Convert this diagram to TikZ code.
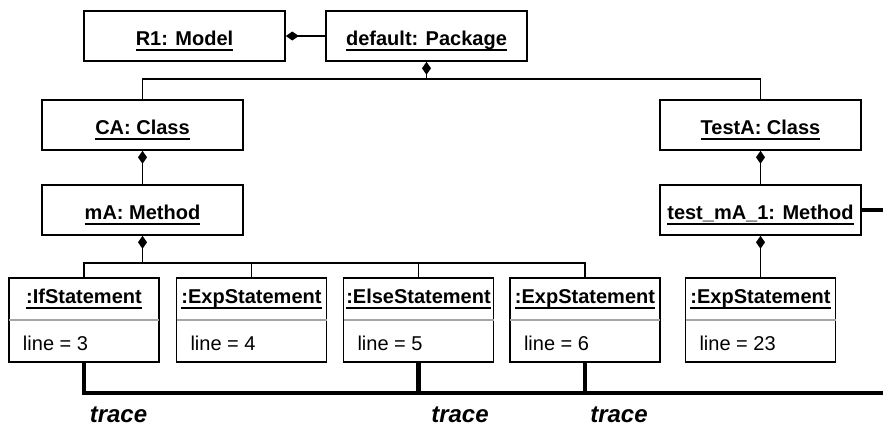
\documentclass[tikz,border=0pt]{standalone}
\usepackage{fontspec}
\setmainfont{Liberation Sans}
\usetikzlibrary{arrows.meta}
\newcommand\ulin[1]{\setbox0\hbox{#1}\rlap{\rule[-5.8pt]{\wd0}{1.6pt}}\box0}

\begin{document}
\begin{tikzpicture}[x=1pt, y=-1pt, line width=1.6pt,
	obj/.style={draw, minimum width=201pt, minimum height=50pt, inner sep=0pt, font=\fontsize{20}{24}\bfseries, text height=18pt, text depth=0pt},
	stmt/.style={draw, minimum width=150pt, minimum height=84pt, inner sep=0pt},
	sname/.style={anchor=base, inner sep=0pt, font=\fontsize{20}{24}\bfseries},
	sval/.style={anchor=base west, inner sep=0pt, font=\fontsize{20}{24}\selectfont},
	comp/.style={{Diamond[length=13pt,width=9pt]}-},
	tr/.style={line width=4.5pt},
	trlbl/.style={anchor=base, inner sep=0pt, font=\fontsize{24}{28}\bfseries\itshape}]
	\useasboundingbox (0,0) rectangle (883,426);
	% objects
	\node[obj] (model) at (184.5,36) {\ulin{R1: Model}};
	\node[obj] (pkg) at (426.5,36) {\ulin{default: Package}};
	\node[obj] (ca) at (142.5,125) {\ulin{CA: Class}};
	\node[obj] (testa) at (760.5,125) {\ulin{TestA: Class}};
	\node[obj] (ma) at (142.5,210) {\ulin{mA: Method}};
	\node[obj] (tm) at (760.5,210) {\ulin{test\_mA\_1: Method}};
	% statements
	\foreach \n/\x/\t/\v in {s1/84/IfStatement/3, s2/251.5/ExpStatement/4, s3/418.5/ElseStatement/5, s4/585/ExpStatement/6, s5/760.5/ExpStatement/23} {
		\node[stmt] (\n) at (\x,320) {};
		\node[sname] (\n name) at ([yshift=17pt]\n.center) {\ulin{:\t}};
		\node[sval] (\n val) at ([xshift=14pt,yshift=-30pt]\n.west) {line = \v};
		\draw[gray!70, line width=2pt] ([xshift=0.8pt]\n.west) -- ([xshift=-0.8pt]\n.east);
	}
	\coordinate (jp) at ([yshift=-17pt]pkg.south);
	\coordinate (jm) at ([yshift=-27pt]ma.south);
	\coordinate (tmout) at (883,210);
	\coordinate (tend) at (883,393);
	% composition
	\draw[comp] (model.east) -- (pkg.west);
	\draw[comp] (pkg.south) -- (jp);
	\draw (ca.north) |- (jp) -| (testa.north);
	\draw[comp] (ca.south) -- (ma.north);
	\draw[comp] (testa.south) -- (tm.north);
	\draw[comp] (ma.south) -- (jm);
	\draw (s1.north) |- (jm) -| (s4.north);
	\draw (s2.north) -- (s2.north |- jm) (s3.north) -- (s3.north |- jm);
	\draw[comp] (tm.south) -- (s5.north);
	% trace
	\draw[tr] (tm.east) -- (tmout);
	\draw[tr] (s1.south) |- (tend);
	\draw[tr] (s3.south) -- (s3.south |- tend) (s4.south) -- (s4.south |- tend);
	\node[trlbl] (t1) at (118.5,422) {trace};
	\node[trlbl] (t2) at (460,422) {trace};
	\node[trlbl] (t3) at (619,422) {trace};
\end{tikzpicture}
\end{document}
